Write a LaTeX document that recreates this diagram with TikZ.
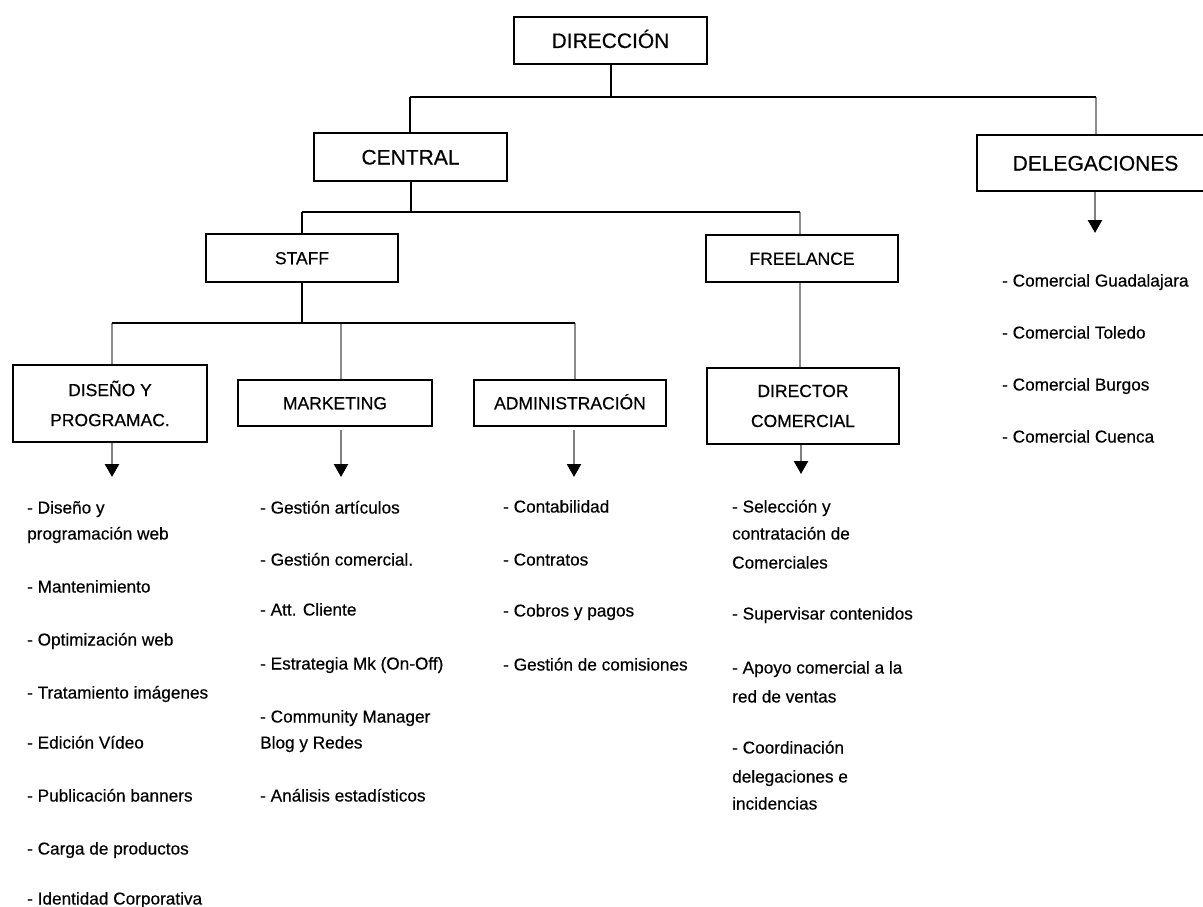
\documentclass[tikz,border=0pt]{standalone}
\usepackage{fontspec}
\setmainfont{Liberation Sans}[FakeBold=0.4]
\usetikzlibrary{arrows.meta}
\begin{document}
\begin{tikzpicture}[x=1pt,y=-1pt,
  box/.style={draw=black,line width=2pt,fill=white,inner sep=0pt,align=center},
  bigbox/.style={box,font=\fontsize{21}{25}\selectfont,text height=15pt,text depth=0pt},
  smallbox/.style={box,font=\fontsize{17.5}{30}\selectfont},
  blk/.style={draw=black,line width=2pt},
  gry/.style={draw=black!45,line width=2.6pt},
  arr/.style={draw=black!50,line width=2.4pt,-{Triangle[width=14pt,length=13pt,black]}},
  item/.style={anchor=base west,inner sep=0pt,font=\fontsize{17.2}{20}\selectfont}]
\clip (0,0) rectangle (1203,907);
\fill[white] (0,0) rectangle (1203,907);

% boxes
\node[bigbox,minimum width=193pt,minimum height=47pt] (dir) at (610.5,40.5) {DIRECCIÓN};
\node[bigbox,minimum width=193pt,minimum height=48pt] (cen) at (410.5,157) {CENTRAL};
\node[bigbox,minimum width=237pt,minimum height=56pt] (del) at (1095.5,163) {DELEGACIONES};
\node[smallbox,minimum width=192pt,minimum height=48pt,text height=12.5pt,text depth=0pt] (stf) at (302,258) {STAFF};
\node[smallbox,minimum width=192pt,minimum height=47pt,text height=12.5pt,text depth=0pt] (fre) at (802,258.5) {FREELANCE};
\node[smallbox,minimum width=194pt,minimum height=77pt] (dis) at (110,403.5) {DISEÑO Y\\PROGRAMAC.};
\node[smallbox,minimum width=194pt,minimum height=46pt,text height=12.5pt,text depth=0pt] (mkt) at (335,403) {MARKETING};
\node[smallbox,minimum width=192pt,minimum height=46pt,text height=12.5pt,text depth=0pt] (adm) at (570,403) {ADMINISTRACIÓN};
\node[smallbox,minimum width=192pt,minimum height=76pt] (dco) at (803,406) {DIRECTOR\\COMERCIAL};

% bus coordinates
\coordinate (b1c) at (410,97);
\coordinate (b1r) at (1096,97);
\coordinate (b2l) at (302,212);
\coordinate (b2r) at (800,212);
\coordinate (b3l) at (112,323);
\coordinate (b3m) at (341,323);
\coordinate (b3r) at (575,323);
\coordinate (a1) at (112,477);
\coordinate (a2) at (341,477);
\coordinate (a3) at (574,477);
\coordinate (a4) at (801,474);
\coordinate (a5) at (1095,233);

% level 1
\draw[gry] (b1r) -- (b1r |- del.north);
\draw[blk] (dir.south) -- (dir.south |- b1c);
\draw[blk] (b1c) -- (b1r);
\draw[blk] (b1c) -- (b1c |- cen.north);
% level 2
\draw[gry] (b2r) -- (b2r |- fre.north);
\draw[blk] (b2l -| cen.south) -- (cen.south);
\draw[blk] (b2l) -- (b2r);
\draw[blk] (b2l) -- (b2l |- stf.north);
% level 3
\draw[gry] (b3l) -- (b3l |- dis.north);
\draw[gry] (b3m) -- (b3m |- mkt.north);
\draw[gry] (b3r) -- (b3r |- adm.north);
\draw[blk] (stf.south) -- (stf.south |- b3l);
\draw[blk] (b3l) -- (b3r);
\draw[gry] (fre.south -| b2r) -- (dco.north -| b2r);

% arrows
\draw[arr] (a1 |- dis.south) -- (a1);
\draw[arr] (a2 |- mkt.south) ++(0,3) -- (a2);
\draw[arr] (a3 |- adm.south) ++(0,3) -- (a3);
\draw[arr] (a4 |- dco.south) -- (a4);
\draw[arr] (a5 |- del.south) -- (a5);

% lists
\foreach \t/\y [count=\i] in {{- Diseño y}/507,{programación web}/533,{- Mantenimiento}/586,{- Optimización web}/639,{- Tratamiento imágenes}/692,{- Edición Vídeo}/742,{- Publicación banners}/795,{- Carga de productos}/848,{- Identidad Corporativa}/898}
  \node[item] (ld\i) at (27,\y+6.5) {\t};
\foreach \t/\y [count=\i] in {{- Gestión artículos}/507,{- Gestión comercial.}/559,{- Att. Cliente}/609,{- Estrategia Mk (On-Off)}/663,{- Community Manager}/716,{Blog y Redes}/742,{- Análisis estadísticos}/795}
  \node[item] (lm\i) at (260,\y+6.5) {\t};
\foreach \t/\y [count=\i] in {{- Contabilidad}/506,{- Contratos}/559,{- Cobros y pagos}/610,{- Gestión de comisiones}/664}
  \node[item] (la\i) at (503,\y+6.5) {\t};
\foreach \t/\y [count=\i] in {{- Selección y}/506,{contratación de}/533,{Comerciales}/562,{- Supervisar contenidos}/613,{- Apoyo comercial a la}/667,{red de ventas}/696,{- Coordinación}/747,{delegaciones e}/776,{incidencias}/803}
  \node[item] (lc\i) at (732,\y+6.5) {\t};
\foreach \t/\y [count=\i] in {{- Comercial Guadalajara}/280,{- Comercial Toledo}/332,{- Comercial Burgos}/384,{- Comercial Cuenca}/436}
  \node[item] (lg\i) at (1002,\y+6.5) {\t};
\end{tikzpicture}
\end{document}
